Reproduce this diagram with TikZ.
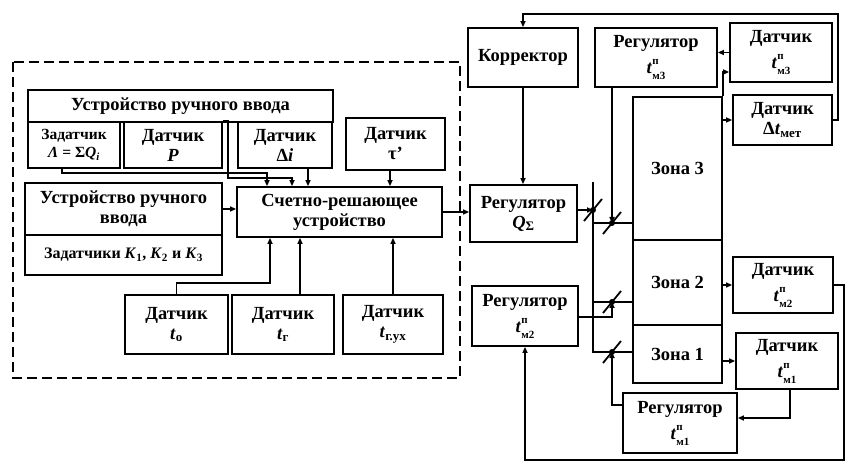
\documentclass[tikz,border=0pt]{standalone}
\usepackage{fontspec}
\setmainfont{Liberation Serif}
\usetikzlibrary{arrows.meta}
\newcommand\scr{\fontsize{11}{11}\selectfont}
\newcommand\tsens[1]{\textit{t}\rlap{\raisebox{9pt}{\scr п}}\raisebox{-6pt}{\scr м#1}}
\begin{document}
\begin{tikzpicture}[x=1pt,y=-1pt,
  box/.style={draw,line width=1.8pt,inner sep=1pt,align=center,
    font=\fontsize{18.5}{20}\selectfont\bfseries},
  sbox/.style={box,font=\fontsize{18.5}{26}\selectfont\bfseries},
  ln/.style={line width=1.8pt},
  arr/.style={line width=1.8pt,-{Triangle[length=6pt,width=5pt]}},
  frame/.style={line width=2pt,dash pattern=on 10pt off 5pt},
  valve/.pic={\draw[line width=1.8pt] (-9,11) -- (9,-11); \fill (0,0) circle (3pt);}]
\useasboundingbox (0,0) rectangle (846,462);
% dashed frame
\draw[frame] (13,62) rectangle (460,378);
% left part
\node[box,minimum width=305pt,minimum height=32pt] (mi1) at (180.5,106) {Устройство ручного ввода};
\node[box,minimum width=92pt,minimum height=46pt,font=\fontsize{15.5}{18}\selectfont\bfseries] (zad) at (74,145) {Задатчик\\\textit{Λ} = Σ\textit{Q}\textsubscript{\textit{i}}};
\node[box,minimum width=98pt,minimum height=46pt] (dP) at (173,145) {Датчик\\\textit{P}};
\node[box,minimum width=94pt,minimum height=46pt] (dDi) at (285,145) {Датчик\\Δ\textit{i}};
\node[box,minimum width=99pt,minimum height=52pt] (dtau) at (395.5,144) {Датчик\\τ’};
\node[box,minimum width=197pt,minimum height=52pt] (mi2a) at (123.5,209) {Устройство ручного\\ввода};
\node[box,minimum width=197pt,minimum height=40pt,font=\fontsize{16}{18}\selectfont\bfseries] (mi2b) at (123.5,255) {Задатчики \textit{K}\textsubscript{1}, \textit{K}\textsubscript{2} и \textit{K}\textsubscript{3}};
\node[box,minimum width=205pt,minimum height=50pt] (crd) at (339.5,212) {Счетно-решающее\\устройство};
\node[box,minimum width=103pt,minimum height=59pt] (dto) at (176.5,324.5) {Датчик\\\textit{t}\textsubscript{о}};
\node[box,minimum width=102pt,minimum height=59pt] (dtr) at (283,324.5) {Датчик\\\textit{t}\textsubscript{г}};
\node[box,minimum width=100pt,minimum height=59pt] (dtgy) at (393,324.5) {Датчик\\\textit{t}\textsubscript{г.ух}};
% right part
\node[box,minimum width=110pt,minimum height=59pt] (kor) at (523,57.5) {Корректор};
\node[box,minimum width=107pt,minimum height=57pt] (rQ) at (523.5,213.5) {Регулятор\\\textit{Q}\textsubscript{Σ}};
\node[sbox,minimum width=106pt,minimum height=60pt] (rt2) at (525,316) {Регулятор\\\tsens{2}};
\node[sbox,minimum width=122pt,minimum height=59pt] (rt3) at (656,57.5) {Регулятор\\\tsens{3}};
\node[sbox,minimum width=102pt,minimum height=59pt] (dt3) at (781,52.5) {Датчик\\\tsens{3}};
\node[box,minimum width=99pt,minimum height=50pt] (ddt) at (782.5,120) {Датчик\\Δ\textit{t}\textsubscript{мет}};
\node[box,minimum width=89pt,minimum height=143pt] (z3) at (677.5,168.5) {Зона 3};
\node[box,minimum width=89pt,minimum height=85pt] (z2) at (677.5,282.5) {Зона 2};
\node[box,minimum width=89pt,minimum height=58pt] (z1) at (677.5,354) {Зона 1};
\node[sbox,minimum width=100pt,minimum height=56pt] (dt2) at (783,285) {Датчик\\\tsens{2}};
\node[sbox,minimum width=102pt,minimum height=56pt] (dt1) at (787,361) {Датчик\\\tsens{1}};
\node[sbox,minimum width=114pt,minimum height=60pt] (rt1) at (680,423) {Регулятор\\\tsens{1}};
% pipe coordinates
\coordinate (ptop) at (593,182);
\coordinate (vm) at (593,210);
\coordinate (v3) at (612,223);
\coordinate (v2) at (612,302);
\coordinate (v1) at (612,352);
% connectors left
\draw[arr] (zad.south -| 62,0) |- (267,173) -- (crd.north -| 267,0);
\draw[arr] (dP.north east) -| (228,178) -| (crd.north -| 292,0);
\draw[arr] (dDi.south -| 308,0) -- (crd.north -| 308,0);
\draw[arr] (dtau.south -| 390,0) -- (crd.north -| 390,0);
\draw[arr] (mi2a.east) -- (crd.west |- mi2a.east);
\draw[arr] (dto.north) |- (270,283) -- (crd.south -| 270,0);
\draw[arr] (dtr.north -| 300,0) -- (crd.south -| 300,0);
\draw[arr] (dtgy.north) -- (crd.south -| dtgy.north);
\draw[arr] (crd.east) -- (rQ.west |- crd.east);
% connectors right
\draw[arr] (kor.south) -- (rQ.north -| kor.south);
\draw[arr] (ddt.east) -| (838,14) -| (kor.north);
\draw[arr] (dt3.west) -- (rt3.east |- dt3.west);
\draw[arr] (z3.north east) |- (dt3.west |- 0,72);
\draw[arr] (z3.east |- ddt.west) -- (ddt.west);
\draw[arr] (z2.east |- dt2.west) -- (dt2.west);
\draw[arr] (z1.east |- dt1.west) -- (dt1.west);
\draw[arr] (dt1.south -| 790,0) |- (rt1.east |- 0,418);
\draw[arr] (dt2.east) -| (844,460) -| (rt2.south);
% pipes
\draw[ln] (ptop) |- (z1.west |- v1);
\draw[ln] (vm |- v3) -- (z3.west |- v3);
\draw[ln] (vm |- v2) -- (z2.west |- v2);
% regulator lines to valves
\draw[arr] (rQ.east |- vm) -- (vm);
\draw[arr] (rt3.south -| v3) -- (v3);
\draw[arr] (rt2.east |- 0,317) -| (v2);
\draw[arr] (rt1.west |- 0,405) -| (v1);
% valves
\pic at (vm) {valve};
\pic at (v3) {valve};
\pic at (v2) {valve};
\pic at (v1) {valve};
\end{tikzpicture}
\end{document}
